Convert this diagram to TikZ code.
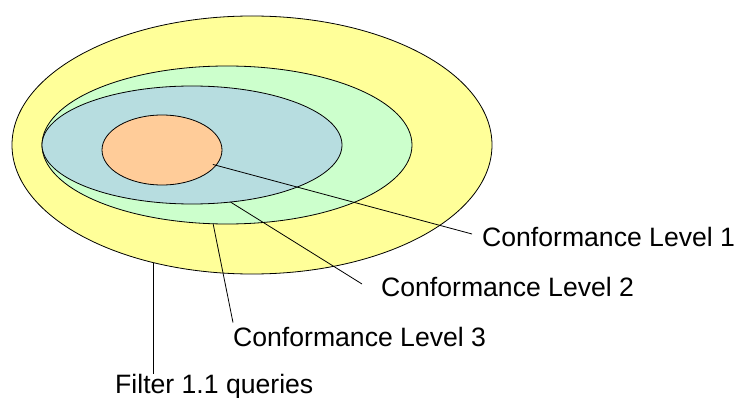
\documentclass[tikz,border=0pt]{standalone}
\usepackage{fontspec}
\setmainfont{Liberation Sans}
\usepackage{tikz}
\usetikzlibrary{shapes.geometric,calc}

\definecolor{setyellow}{HTML}{FFFF99}
\definecolor{setgreen}{HTML}{CCFFCC}
\definecolor{setblue}{HTML}{B7DDE0}
\definecolor{setorange}{HTML}{FFCC99}

\begin{document}
\begin{tikzpicture}[x=1pt,y=-1pt]
\tikzset{set/.style={ellipse,draw=black,line width=0.8pt,inner sep=0pt,outer sep=0pt}}
\tikzset{lbl/.style={anchor=base west,inner sep=0pt,font=\fontsize{26.6}{30}\selectfont}}
\tikzset{callout/.style={draw=black,line width=0.8pt}}
\useasboundingbox (0,0) rectangle (736,398);
	\node[set,fill=setyellow,minimum width=480pt,minimum height=258pt] (filterset) at (252,145) {};
	\node[set,fill=setgreen,minimum width=370pt,minimum height=158pt] (level3set) at (227,145) {};
	\node[set,fill=setblue,minimum width=300pt,minimum height=118pt] (level2set) at (192,145) {};
	\node[set,fill=setorange,minimum width=120pt,minimum height=70pt] (level1set) at (162,150) {};
	\node[lbl] (level1) at (482,247) {Conformance Level 1};
	\node[lbl] (level2) at (381,296) {Conformance Level 2};
	\node[lbl] (level3) at (233,346) {Conformance Level 3};
	\node[lbl] (filter) at (115,393) {Filter 1.1 queries};
	\draw[callout] ([shift={(-3pt,1pt)}]level1set.-16) -- ([shift={(-10pt,3.5pt)}]level1.west);
	\draw[callout] (level2set.-56) -- ([shift={(-19pt,2.5pt)}]level2.west);
	\draw[callout] (level3set.-100.6) -- ([yshift=4pt]level3.north west);
	\draw[callout] (filterset.-130) -- (filterset.-130 |- filter.north);
\end{tikzpicture}
\end{document}
